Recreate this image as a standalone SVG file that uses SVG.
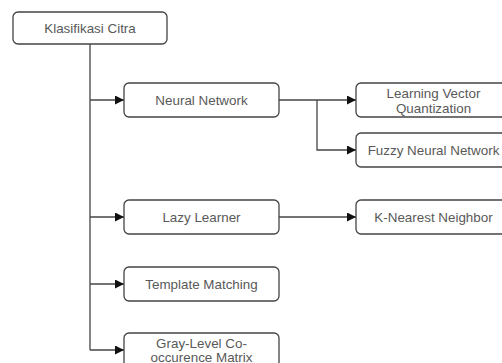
<svg xmlns="http://www.w3.org/2000/svg" width="502" height="363" viewBox="0 0 502 363">
  <defs>
    <style>
      .box { fill: #ffffff; stroke: #444444; stroke-width: 1.3; }
      .lbl { font-family: "Liberation Sans", Arial, sans-serif; font-size: 13.4px; fill: #595959; text-anchor: middle; dominant-baseline: central; }
      .wire { fill: none; stroke: #444444; stroke-width: 1.3; }
    </style>
    <marker id="arrow" viewBox="0 0 10 10" refX="10" refY="5" markerWidth="9" markerHeight="9" markerUnits="userSpaceOnUse" orient="auto">
      <path d="M0,0 L10,5 L0,10 Z" fill="#111111"/>
    </marker>
  </defs>
  <rect width="502" height="363" fill="#ffffff"/>

  <g id="connectors">
    <path class="wire" d="M90,44 V350"/>
    <path class="wire" d="M90,100 H124" marker-end="url(#arrow)"/>
    <path class="wire" d="M90,217 H124" marker-end="url(#arrow)"/>
    <path class="wire" d="M90,284 H124" marker-end="url(#arrow)"/>
    <path class="wire" d="M90,350 H124" marker-end="url(#arrow)"/>
    <path class="wire" d="M279,100 H356" marker-end="url(#arrow)"/>
    <path class="wire" d="M317,100 V150 H356" marker-end="url(#arrow)"/>
    <path class="wire" d="M279,217 H356" marker-end="url(#arrow)"/>
  </g>

  <g id="klasifikasi-citra">
    <rect class="box" x="13" y="12" width="154" height="32" rx="5"/>
    <text class="lbl" x="90" y="28">Klasifikasi Citra</text>
  </g>
  <g id="neural-network">
    <rect class="box" x="124" y="83" width="155" height="34" rx="5"/>
    <text class="lbl" x="201.5" y="100">Neural Network</text>
  </g>
  <g id="lvq">
    <rect class="box" x="356" y="83" width="155" height="34" rx="5"/>
    <text class="lbl" x="433.5" y="93">Learning Vector</text>
    <text class="lbl" x="433.5" y="108">Quantization</text>
  </g>
  <g id="fuzzy-neural-network">
    <rect class="box" x="356" y="133" width="155" height="34" rx="5"/>
    <text class="lbl" x="433.5" y="150">Fuzzy Neural Network</text>
  </g>
  <g id="lazy-learner">
    <rect class="box" x="124" y="200" width="155" height="34" rx="5"/>
    <text class="lbl" x="201.5" y="217">Lazy Learner</text>
  </g>
  <g id="knn">
    <rect class="box" x="356" y="200" width="155" height="34" rx="5"/>
    <text class="lbl" x="433.5" y="217">K-Nearest Neighbor</text>
  </g>
  <g id="template-matching">
    <rect class="box" x="124" y="267" width="155" height="34" rx="5"/>
    <text class="lbl" x="201.5" y="284">Template Matching</text>
  </g>
  <g id="glcm">
    <rect class="box" x="124" y="333" width="155" height="34" rx="5"/>
    <text class="lbl" x="201.5" y="343">Gray-Level Co-</text>
    <text class="lbl" x="201.5" y="357">occurence Matrix</text>
  </g>
</svg>
